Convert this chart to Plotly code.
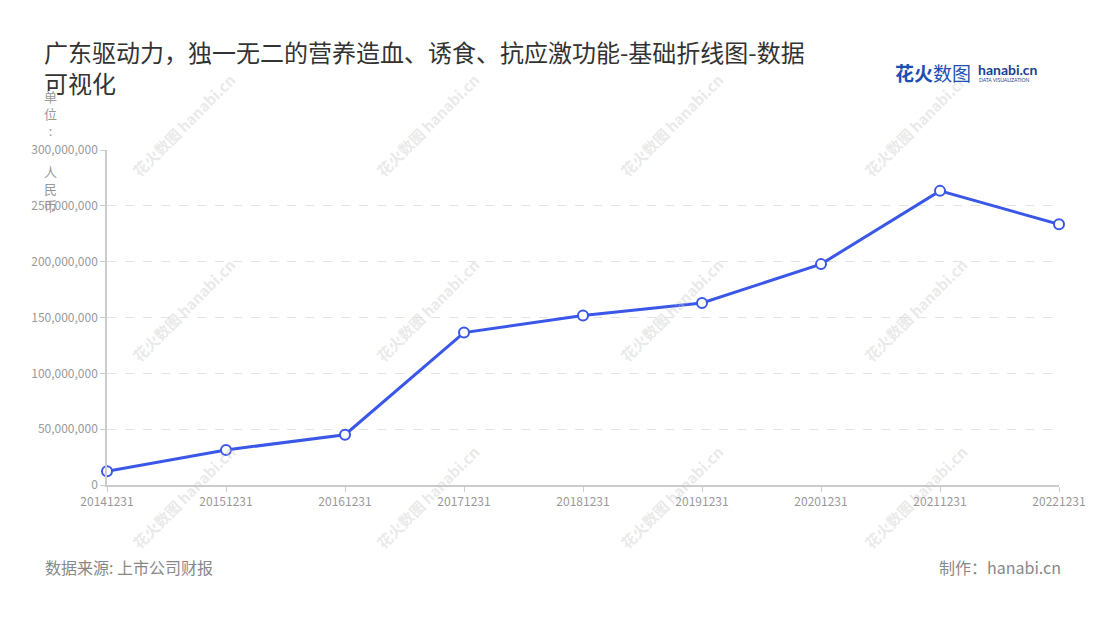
import plotly.graph_objects as go

# data
dates = ["20141231", "20151231", "20161231", "20171231", "20181231",
         "20191231", "20201231", "20211231", "20221231"]
values = [12300000, 31400000, 45000000, 136500000, 151700000,
          163000000, 197800000, 263400000, 233500000]
ytick_vals = [0, 50000000, 100000000, 150000000, 200000000, 250000000, 300000000]

FONT = "Noto Sans CJK SC"
BLUE = "#3a57e8"

# page has an 8px body margin, so the figure sits 8px right/down
OFF = 8
L, R, T, B = 107 - OFF, 1100 - 1059 + OFF, 150 - OFF, 620 - 485 + OFF


def px(x, y):
    # reference screenshot pixel -> paper coords of the plot area
    return (x - 107) / (1059 - 107), (485 - y) / (485 - 150)


def note(x, y, text, size, color, anchor="left", family=FONT, angle=0):
    ax, ay = px(x, y)
    fig.add_annotation(x=ax, y=ay, xref="paper", yref="paper", text=text,
                       showarrow=False, xanchor=anchor, yanchor="middle",
                       textangle=angle, font=dict(family=family, size=size, color=color))


fig = go.Figure()

# watermark grid
wm_x = [183, 427, 671, 915]
wm_y = [125, 310, 497]
for wx in wm_x:
    for wy in wm_y:
        note(wx, wy, "<b>花火数图</b> <b>hanabi.cn</b>", 15,
             "rgba(200,200,200,0.4)", anchor="center", angle=-45)

fig.add_trace(go.Scatter(
    x=dates, y=values, mode="lines+markers",
    line=dict(color=BLUE, width=3),
    marker=dict(size=10, color="white", line=dict(color=BLUE, width=2)),
    cliponaxis=False, hoverinfo="x+y",
))

fig.update_layout(
    width=1100, height=620,
    paper_bgcolor="white", plot_bgcolor="white",
    margin=dict(l=L, r=R, t=T, b=B),
    showlegend=False,
    font=dict(family=FONT, color="#999999", size=12),
    title=dict(
        text="广东驱动力，独一无二的营养造血、诱食、抗应激功能-基础折线图-数据<br>可视化",
        x=(44 - OFF) / 1100, xanchor="left", y=1 - (62 - OFF) / 620, yanchor="top",
        font=dict(family=FONT, size=24, color="#333333"),
    ),
    xaxis=dict(
        type="category", range=[0, len(dates) - 1],
        showline=True, linecolor="#cccccc", linewidth=1.5,
        ticks="outside", ticklen=5, tickcolor="#cccccc",
        showgrid=False, tickfont=dict(size=12, color="#999999"),
    ),
    yaxis=dict(
        range=[0, 300000000], tickvals=ytick_vals, tickformat=",",
        showline=True, linecolor="#cccccc", linewidth=1.5,
        ticks="outside", ticklen=5, tickcolor="#cccccc",
        showgrid=True, gridcolor="#e3e3e3", griddash="dash",
        zeroline=False, tickfont=dict(size=12, color="#999999"),
    ),
)

# y unit label, stacked vertically
note(50, 113, "单<br>位<br>:", 13, "#999999", anchor="center")
note(50, 188, "人<br>民<br>币", 13, "#999999", anchor="center")

# logo
note(893, 72, "<b>花火</b>数图", 19, "#1d4fb3")
note(976, 69, "<b>hanabi.cn</b>", 14, "#1a3f8f", family="Lato")
note(977, 80, "DATA VISUALIZATION", 5, "#1a3f8f", family="Lato")

# footer
note(43, 567, "数据来源: 上市公司财报", 16, "#888888")
note(1063, 567, "制作：hanabi.cn", 16, "#888888", anchor="right")

fig.write_html("out.html")
